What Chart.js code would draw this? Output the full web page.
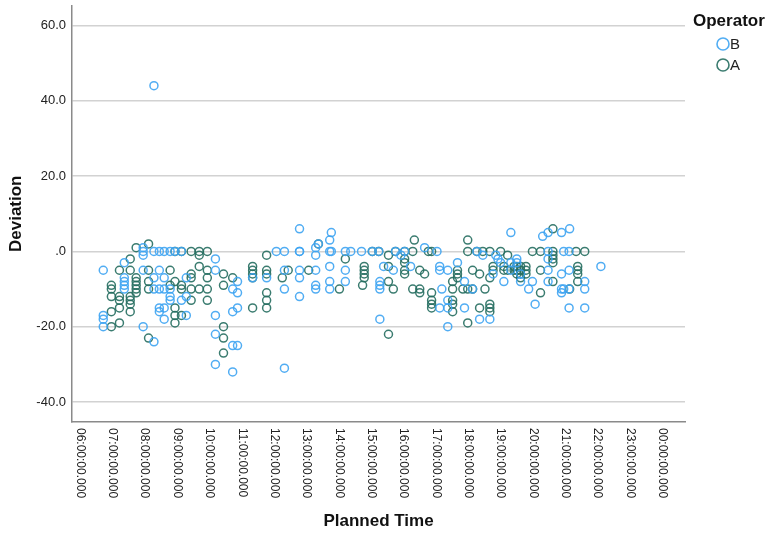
<!DOCTYPE html>
<html>
<head>
<meta charset="utf-8">
<script src="https://cdn.jsdelivr.net/npm/chart.js@4/dist/chart.umd.min.js"></script>
<style>
  html, body { margin: 0; padding: 0; background: #ffffff; }
  #wrap { position: relative; width: 765px; height: 533px; }
</style>
</head>
<body>
<div id="wrap"><canvas id="chart" width="765" height="533"></canvas></div>
<script>
// Planned departure times (HH:MM) and the deviations (minutes) recorded at each time
const timesB = ["06:43","07:22","07:57","08:17","08:27","08:36","08:47","08:56","09:08","09:17",
  "10:11","10:43","10:52","11:20","11:46","12:04","12:19","12:47","13:17","13:22",
  "13:43","13:46","14:12","14:22","14:42","15:02","15:14","15:16","15:23","15:41",
  "15:45","15:55","16:02","16:13","16:39","17:02","17:07","17:11","17:22","17:40",
  "17:53","18:08","18:16","18:21","18:27","18:40","18:46","18:51","18:55","19:00",
  "19:06","19:19","19:30","19:37","19:52","19:59","20:04","20:18","20:28","20:53",
  "20:57","21:07","21:08","21:36","22:06"];
const deviationsB = [[-5,-17,-18,-20],[-3,-7,-8,-9,-10],[1,0,-1,-5,-20],[44,0,-7,-10,-24],[0,-5,-10,-15,-16],
  [0,-7,-10,-15,-18],[0,-10,-12,-13],[0],[0,-13],[-7,-12,-17],
  [-2,-5,-17,-22,-30],[-10,-16,-25,-32],[-8,-11,-15,-25],[-7],[-7],[0],[0,-5,-10,-31],[6,0,0,-5,-7,-12],[-1,1,-5,-9,-10],[2],
  [3,0,-4,-8,-10],[5,0],[0,-5,-8],[0],[0],[0],[0],[-8,-9,-10,-18],[-4],[-5],
  [0],[-1],[0],[-4],[1],[0],[-4,-5,-15],[-10],[-5,-13,-15,-20],[-3],
  [-8,-15],[-10],[0],[-18],[-1],[-18],[-6],[-1],[-2],[-3],
  [-8],[5,-3,-5],[-2,-3],[-6,-8],[-10],[-8],[-14],[4],[5,0,-2,-5,-8],[5,-6,-10,-11],
  [0,-10],[0,-5,-10,-15],[6],[-8,-10,-15],[-4]];

const timesA = ["06:58","07:13","07:33","07:44","08:07","08:47","08:56","09:08","09:26","09:41",
  "09:56","10:26","10:43","11:20","11:46","12:15","12:26","13:04","13:22","14:01",
  "14:12","14:44","14:47","15:02","15:14","15:32","15:41","15:45","16:02","16:17",
  "16:20","16:30","16:39","16:46","16:52","17:31","17:40","17:50","17:59","18:08",
  "18:16","18:21","18:27","18:31","18:40","18:46","19:00","19:06","19:13","19:25",
  "19:30","19:37","19:47","19:59","20:14","20:37","21:08","21:20","21:23","21:36"];
const deviationsA = [[-9,-10,-12,-16,-20],[-5,-12,-13,-15,-19],[-2,-5,-12,-13,-14,-16],[1,-7,-8,-9,-10,-11],[2,-5,-8,-10,-23],
  [-5,-9],[0,-8,-15,-17,-19],[0,-9,-10,-17],[0,-6,-7,-10,-13],[0,-1,-4,-10],
  [0,-5,-7,-10,-13],[-6,-9,-20,-23,-27],[-7],[-4,-5,-6,-7,-15],[-1,-5,-6,-11,-13,-15],[-7],[-5],[-5],[2],[-10],
  [-2],[-9],[-4,-5,-6,-7],[0],[0],[-1,-4,-8,-22],[-10],[0],[0,-2,-3,-5,-6],[0,-10],
  [3],[-5,-10,-11],[-6],[0],[0,-11,-13,-14,-15],[-8,-10,-13,-14,-16],[-5,-6,-7],[-10],[3,0,-10,-19],[-5,-10],
  [0],[-6,-15],[0],[-10],[0,-7,-14,-15,-16],[-4,-5],[0],[-4,-5],[-1,-5],[-4,-5],
  [-4,-5,-6],[-4,-5,-6,-7],[-4,-5,-6],[0],[0,-5,-11],[6,0,-1,-2,-3,-8],[-10],[0],[-4,-5,-6,-8],[0]];

const operators = ["B", "A"];
const yTickValues = [-40, -20, 0, 20, 40, 60];
const hourTicks = [6,7,8,9,10,11,12,13,14,15,16,17,18,19,20,21,22,23,24];

const FONT = "'Liberation Sans', Arial, sans-serif";

function toHours(t) {
  const [h, m] = t.split(":").map(Number);
  return h + m / 60;
}
function toPoints(times, devs) {
  const pts = [];
  times.forEach((t, i) => devs[i].forEach(d => pts.push({ x: toHours(t), y: d })));
  return pts;
}
function hourLabel(h) {
  return String(h % 24).padStart(2, "0") + ":00:00.000";
}

// Rotated hour labels under the x axis, plus the Operator legend
const decorations = {
  id: "decorations",
  afterDraw(chart) {
    const ctx = chart.ctx;
    const xs = chart.scales.x;
    const bottom = chart.chartArea.bottom;
    ctx.save();
    ctx.fillStyle = "#222";
    ctx.font = "12px " + FONT;
    ctx.textAlign = "left";
    ctx.textBaseline = "middle";
    hourTicks.forEach(h => {
      const px = xs.getPixelForValue(h);
      ctx.save();
      ctx.translate(px, bottom + 6);
      ctx.rotate(Math.PI / 2);
      ctx.fillText(hourLabel(h), 0, 0);
      ctx.restore();
    });

    // legend
    ctx.fillStyle = "#111";
    ctx.font = "bold 17px " + FONT;
    ctx.textBaseline = "middle";
    ctx.fillText("Operator", 693, 21);
    ctx.font = "15px " + FONT;
    chart.data.datasets.forEach((ds, i) => {
      const cy = 44 + i * 21;
      ctx.beginPath();
      ctx.arc(723, cy, 6, 0, Math.PI * 2);
      ctx.strokeStyle = ds.borderColor;
      ctx.lineWidth = 1.6;
      ctx.stroke();
      ctx.fillStyle = "#222";
      ctx.fillText(ds.label, 730, cy + 1);
    });
    ctx.restore();
  }
};

const colors = { B: "rgba(62,164,242,0.9)", A: "rgba(38,110,96,0.9)" };

new Chart(document.getElementById("chart"), {
  type: "scatter",
  data: {
    datasets: [
      { label: operators[0], data: toPoints(timesB, deviationsB), borderColor: colors.B },
      { label: operators[1], data: toPoints(timesA, deviationsA), borderColor: colors.A }
    ]
  },
  options: {
    responsive: false,
    animation: false,
    events: [],
    layout: { padding: { left: 0, right: 80, top: 5, bottom: 1 } },
    elements: {
      point: { radius: 4, borderWidth: 1.5, backgroundColor: "rgba(0,0,0,0)", pointStyle: "circle" }
    },
    plugins: { legend: { display: false }, tooltip: { enabled: false } },
    scales: {
      x: {
        type: "linear",
        min: 5.75,
        max: 24.7,
        afterBuildTicks: s => { s.ticks = hourTicks.map(v => ({ value: v })); },
        afterFit: s => { s.height = 110; s.paddingLeft = 0; s.paddingRight = 0; },
        ticks: { display: false },
        grid: { display: false, drawTicks: false },
        border: { display: true, color: "#8a8a8a", width: 1.5 },
        title: {
          display: true, text: "Planned Time", color: "#111",
          font: { family: FONT, size: 17, weight: "bold" }, padding: { top: 0, bottom: 0 }
        }
      },
      y: {
        type: "linear",
        min: -45.3,
        max: 65.3,
        afterBuildTicks: s => { s.ticks = yTickValues.map(v => ({ value: v })); },
        afterFit: s => { s.width = 72; s.paddingTop = 0; s.paddingBottom = 0; },
        ticks: {
          color: "#222", padding: 6,
          font: { family: FONT, size: 13 },
          callback: v => (v === 0 ? ".0" : v.toFixed(1))
        },
        grid: { color: "#d2d2d2", lineWidth: 1.5, drawTicks: false },
        border: { display: true, color: "#8a8a8a", width: 1.5 },
        title: {
          display: true, text: "Deviation", color: "#111",
          font: { family: FONT, size: 17, weight: "bold" }, padding: { top: 6, bottom: 0 }
        }
      }
    }
  },
  plugins: [decorations]
});
</script>
</body>
</html>
